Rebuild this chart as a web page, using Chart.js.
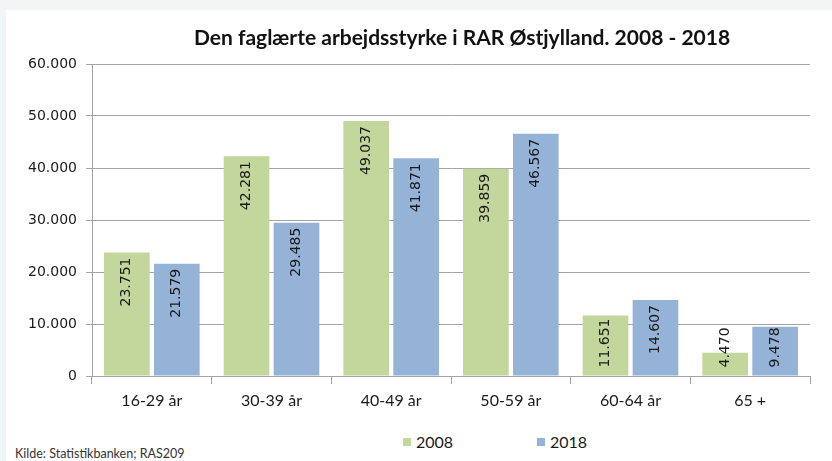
<!DOCTYPE html>
<html>
<head>
<meta charset="utf-8">
<script src="https://cdn.jsdelivr.net/npm/chart.js@4/dist/chart.umd.min.js"></script>
<style>
  html, body { margin: 0; padding: 0; }
  body { width: 832px; height: 461px; background: #f0f6f6; position: relative; overflow: hidden; }
  #panel { position: absolute; left: 6px; top: 10px; width: 826px; height: 460px; background: #fff; }
  #chart { position: absolute; left: 6px; top: 10px; }
  .legend-box { position: absolute; width: 8px; height: 8px; top: 438px; }
  .legend-text { position: absolute; top: 432px; font: 16px Lato, sans-serif; color: #1a1a1a; }
  #source { position: absolute; left: 15px; top: 446px; font: 12.5px Lato, sans-serif; color: #333; }
</style>
</head>
<body>
<div id="panel"></div>
<canvas id="chart" width="826" height="405"></canvas>
<div id="legend"></div>
<div id="source">Kilde: Statistikbanken; RAS209</div>

<script>
const categories = ["16-29 år", "30-39 år", "40-49 år", "50-59 år", "60-64 år", "65 +"];
const values2008 = [23751, 42281, 49037, 39859, 11651, 4470];
const values2018 = [21579, 29485, 41871, 46567, 14607, 9478];
const seriesNames = ["2008", "2018"];
const seriesColors = ["#c3d69b", "#95b3d7"];
const titleText = "Den faglærte arbejdsstyrke i RAR Østjylland. 2008 - 2018";

const gridColor = "#a3a3a3";

// danish thousands separator
function fmt(v) {
  return String(v).replace(/\B(?=(\d{3})+(?!\d))/g, ".");
}

// value labels, rotated, near the top inside each bar
const barLabels = {
  id: "barLabels",
  afterDatasetsDraw(chart) {
    const ctx = chart.ctx;
    ctx.save();
    ctx.font = '14px "DejaVu Sans"';
    ctx.fillStyle = "#1a1a1a";
    ctx.textBaseline = "middle";
    ctx.textAlign = "right";
    chart.data.datasets.forEach((ds, i) => {
      chart.getDatasetMeta(i).data.forEach((bar, j) => {
        const txt = fmt(ds.data[j]);
        const w = ctx.measureText(txt).width;
        let top = bar.y + 5;
        if (top + w > bar.base - 8) top = bar.base - 8 - w;
        ctx.save();
        ctx.translate(bar.x, top);
        ctx.rotate(-Math.PI / 2);
        ctx.fillText(txt, 0, 0);
        ctx.restore();
      });
    });
    ctx.restore();
  }
};

// title sits a bit right of the plot centre in the original
const nudgeTitle = {
  id: "nudgeTitle",
  afterLayout(chart) {
    chart.titleBlock.left += 11;
    chart.titleBlock.right += 11;
  }
};

new Chart(document.getElementById("chart").getContext("2d"), {
  type: "bar",
  data: {
    labels: categories,
    datasets: [
      { label: seriesNames[0], data: values2008, backgroundColor: seriesColors[0] },
      { label: seriesNames[1], data: values2018, backgroundColor: seriesColors[1] }
    ]
  },
  options: {
    responsive: false,
    animation: false,
    devicePixelRatio: 1,
    categoryPercentage: 0.835,
    barPercentage: 0.914,
    layout: { padding: { left: 0, right: 22, top: 0, bottom: 0 } },
    plugins: {
      legend: { display: false },
      tooltip: { enabled: false },
      title: {
        display: true,
        text: titleText,
        fullSize: false,
        color: "#111",
        font: { family: "Lato", size: 21, weight: "bold", lineHeight: 1.2 },
        padding: { top: 15.4, bottom: 13.4 }
      }
    },
    scales: {
      x: {
        grid: { drawOnChartArea: false, color: gridColor, tickLength: 8, offset: true },
        border: { color: gridColor },
        ticks: { color: "#1a1a1a", padding: 7, font: { family: "Lato", size: 16 } },
        afterFit(scale) { scale.height = 39; }
      },
      y: {
        min: 0,
        max: 60000,
        grid: { color: gridColor, tickLength: 6 },
        border: { color: gridColor },
        ticks: {
          stepSize: 10000,
          padding: 9,
          color: "#1a1a1a",
          font: { family: "DejaVu Sans", size: 14 },
          callback: v => fmt(v)
        },
        afterFit(scale) { scale.width = 86; }
      }
    }
  },
  plugins: [barLabels, nudgeTitle]
});

// legend, placed like the original (right of centre, wide gap)
const legendX = [403, 537];
const legend = document.getElementById("legend");
seriesNames.forEach((name, i) => {
  const box = document.createElement("div");
  box.className = "legend-box";
  box.style.left = legendX[i] + "px";
  box.style.background = seriesColors[i];
  const txt = document.createElement("div");
  txt.className = "legend-text";
  txt.style.left = (legendX[i] + 13) + "px";
  txt.textContent = name;
  legend.appendChild(box);
  legend.appendChild(txt);
});
</script>
</body>
</html>
